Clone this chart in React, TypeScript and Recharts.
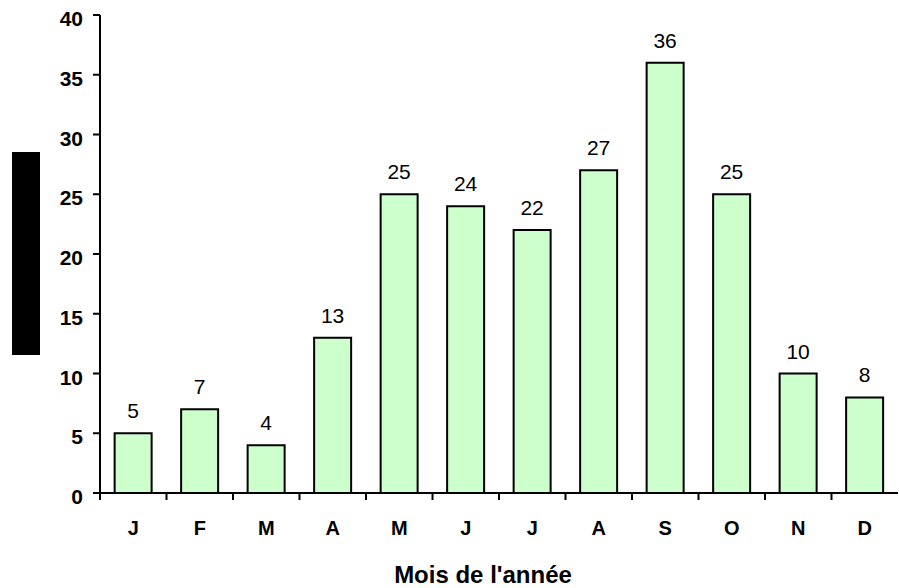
import React from "react";
import { BarChart, Bar, XAxis, YAxis, LabelList, Label } from "recharts";

const months = ["J", "F", "M", "A", "M", "J", "J", "A", "S", "O", "N", "D"];
const counts = [5, 7, 4, 13, 25, 24, 22, 27, 36, 25, 10, 8];
const yTicks = [0, 5, 10, 15, 20, 25, 30, 35, 40];
const xTitle = "Mois de l'année";

const data = months.map((m, i) => ({ key: `${m}${i}`, month: m, value: counts[i] }));

const W = 899;
const H = 588;
const MARGIN = { top: 15, right: 1, bottom: 0, left: 0 };
const Y_W = 100;
const X_H = 95;
const BAND = (W - MARGIN.left - MARGIN.right - Y_W) / months.length;

const XTick = (props: any) => {
  const { x, y, payload } = props;
  const label = months[payload.index] ?? "";
  return (
    <g>
      <line x1={x - BAND / 2} x2={x - BAND / 2} y1={y - 7} y2={y} stroke="#000" strokeWidth={2} />
      <text x={x} y={y + 35} textAnchor="middle" fontWeight="bold" fontSize={20} fill="#000">
        {label}
      </text>
    </g>
  );
};

const YTick = (props: any) => {
  const { x, y, payload } = props;
  return (
    <text x={x} y={y + 11} textAnchor="end" fontWeight="bold" fontSize={21} fill="#000">
      {payload.value}
    </text>
  );
};

const Title = (props: any) => {
  const vb = props.viewBox || {};
  const cx = vb.x + vb.width / 2 - 16;
  const by = vb.y + vb.height - 5;
  return (
    <text x={cx} y={by} textAnchor="middle" fontWeight="bold" fontSize={24} fill="#000">
      {xTitle}
    </text>
  );
};

export default function App() {
  return (
    <div style={{ position: "absolute", left: 0, top: 0, width: W, height: H, background: "#fff" }}>
      <div style={{ position: "absolute", left: 12, top: 152, width: 28, height: 203, background: "#000" }} />
      <BarChart
        width={W}
        height={H}
        data={data}
        margin={MARGIN}
        barCategoryGap="22%"
        style={{ fontFamily: "'Liberation Sans', Arial, sans-serif" }}
      >
        <XAxis
          dataKey="key"
          height={X_H}
          interval={0}
          tickSize={7}
          tickMargin={0}
          tickLine={false}
          axisLine={{ stroke: "#000", strokeWidth: 2 }}
          tick={<XTick />}
        >
          <Label position="insideBottom" content={<Title />} />
        </XAxis>
        <YAxis
          width={Y_W}
          domain={[0, 40]}
          ticks={yTicks}
          interval={0}
          tickSize={7}
          tickMargin={10}
          axisLine={{ stroke: "#000", strokeWidth: 2 }}
          tickLine={{ stroke: "#000", strokeWidth: 2 }}
          tick={<YTick />}
        />
        <Bar dataKey="value" fill="#CCFFCC" stroke="#000" strokeWidth={2} isAnimationActive={false}>
          <LabelList dataKey="value" position="top" offset={15} style={{ fill: "#000", fontSize: 21 }} />
        </Bar>
      </BarChart>
    </div>
  );
}
